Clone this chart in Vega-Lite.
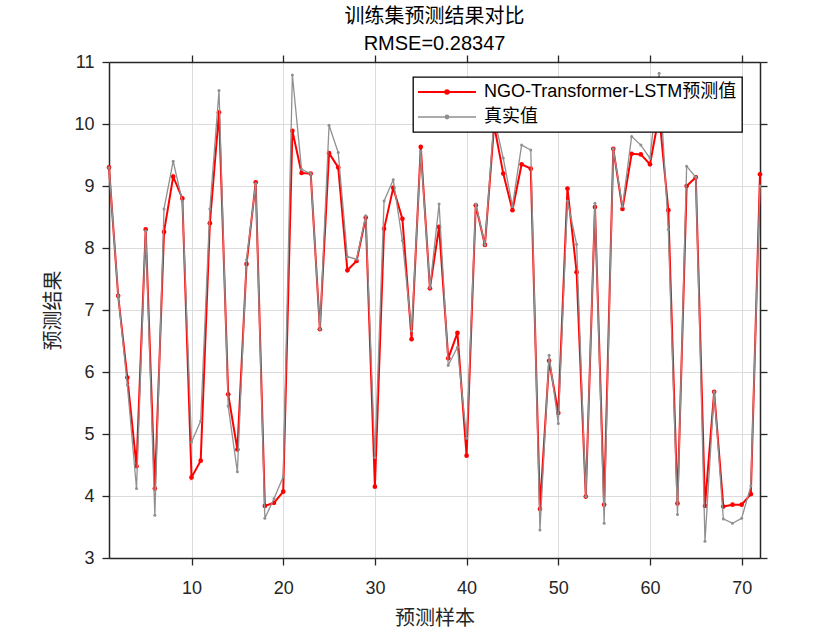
{
  "$schema": "https://vega.github.io/schema/vega-lite/v6.json",
  "autosize": {"type": "none"},
  "width": 651,
  "height": 496,
  "padding": {"left": 109, "top": 62, "right": 80, "bottom": 72},
  "background": "white",
  "title": {
    "text": ["训练集预测结果对比", "RMSE=0.28347"],
    "font": "Liberation Sans, Noto Sans CJK SC",
    "fontSize": 20,
    "fontWeight": "normal",
    "color": "#000000",
    "lineHeight": 27,
    "anchor": "middle",
    "offset": -1
  },
  "config": {
    "view": {"stroke": null},
    "axis": {
      "domainColor": "#262626",
      "domainWidth": 1.5,
      "tickColor": "#262626",
      "tickWidth": 1.3,
      "tickSize": 7,
      "gridColor": "#dcdcdc",
      "gridWidth": 1,
      "labelFont": "Liberation Sans",
      "labelFontSize": 18,
      "labelColor": "#262626",
      "titleFont": "Noto Sans CJK SC",
      "titleFontSize": 20,
      "titleFontWeight": "normal",
      "titleColor": "#262626"
    }
  },
  "data": {
    "values": [
      {"i": 1, "s": "NGO-Transformer-LSTM预测值", "v": 9.30}, {"i": 1, "s": "真实值", "v": 9.30},
      {"i": 2, "s": "NGO-Transformer-LSTM预测值", "v": 7.23}, {"i": 2, "s": "真实值", "v": 7.23},
      {"i": 3, "s": "NGO-Transformer-LSTM预测值", "v": 5.91}, {"i": 3, "s": "真实值", "v": 5.79},
      {"i": 4, "s": "NGO-Transformer-LSTM预测值", "v": 4.48}, {"i": 4, "s": "真实值", "v": 4.12},
      {"i": 5, "s": "NGO-Transformer-LSTM预测值", "v": 8.30}, {"i": 5, "s": "真实值", "v": 8.28},
      {"i": 6, "s": "NGO-Transformer-LSTM预测值", "v": 4.12}, {"i": 6, "s": "真实值", "v": 3.69},
      {"i": 7, "s": "NGO-Transformer-LSTM预测值", "v": 8.26}, {"i": 7, "s": "真实值", "v": 8.63},
      {"i": 8, "s": "NGO-Transformer-LSTM预测值", "v": 9.15}, {"i": 8, "s": "真实值", "v": 9.40},
      {"i": 9, "s": "NGO-Transformer-LSTM预测值", "v": 8.80}, {"i": 9, "s": "真实值", "v": 8.75},
      {"i": 10, "s": "NGO-Transformer-LSTM预测值", "v": 4.30}, {"i": 10, "s": "真实值", "v": 4.87},
      {"i": 11, "s": "NGO-Transformer-LSTM预测值", "v": 4.57}, {"i": 11, "s": "真实值", "v": 5.21},
      {"i": 12, "s": "NGO-Transformer-LSTM预测值", "v": 8.40}, {"i": 12, "s": "真实值", "v": 8.63},
      {"i": 13, "s": "NGO-Transformer-LSTM预测值", "v": 10.19}, {"i": 13, "s": "真实值", "v": 10.54},
      {"i": 14, "s": "NGO-Transformer-LSTM预测值", "v": 5.64}, {"i": 14, "s": "真实值", "v": 5.45},
      {"i": 15, "s": "NGO-Transformer-LSTM预测值", "v": 4.75}, {"i": 15, "s": "真实值", "v": 4.39},
      {"i": 16, "s": "NGO-Transformer-LSTM预测值", "v": 7.74}, {"i": 16, "s": "真实值", "v": 7.81},
      {"i": 17, "s": "NGO-Transformer-LSTM预测值", "v": 9.06}, {"i": 17, "s": "真实值", "v": 9.04},
      {"i": 18, "s": "NGO-Transformer-LSTM预测值", "v": 3.84}, {"i": 18, "s": "真实值", "v": 3.64},
      {"i": 19, "s": "NGO-Transformer-LSTM预测值", "v": 3.89}, {"i": 19, "s": "真实值", "v": 3.96},
      {"i": 20, "s": "NGO-Transformer-LSTM预测值", "v": 4.07}, {"i": 20, "s": "真实值", "v": 4.31},
      {"i": 21, "s": "NGO-Transformer-LSTM预测值", "v": 9.89}, {"i": 21, "s": "真实值", "v": 10.79},
      {"i": 22, "s": "NGO-Transformer-LSTM预测值", "v": 9.21}, {"i": 22, "s": "真实值", "v": 9.27},
      {"i": 23, "s": "NGO-Transformer-LSTM预测值", "v": 9.20}, {"i": 23, "s": "真实值", "v": 9.20},
      {"i": 24, "s": "NGO-Transformer-LSTM预测值", "v": 6.69}, {"i": 24, "s": "真实值", "v": 6.69},
      {"i": 25, "s": "NGO-Transformer-LSTM预测值", "v": 9.53}, {"i": 25, "s": "真实值", "v": 9.98},
      {"i": 26, "s": "NGO-Transformer-LSTM预测值", "v": 9.30}, {"i": 26, "s": "真实值", "v": 9.54},
      {"i": 27, "s": "NGO-Transformer-LSTM预测值", "v": 7.64}, {"i": 27, "s": "真实值", "v": 7.86},
      {"i": 28, "s": "NGO-Transformer-LSTM预测值", "v": 7.79}, {"i": 28, "s": "真实值", "v": 7.82},
      {"i": 29, "s": "NGO-Transformer-LSTM预测值", "v": 8.49}, {"i": 29, "s": "真实值", "v": 8.52},
      {"i": 30, "s": "NGO-Transformer-LSTM预测值", "v": 4.15}, {"i": 30, "s": "真实值", "v": 4.62},
      {"i": 31, "s": "NGO-Transformer-LSTM预测值", "v": 8.31}, {"i": 31, "s": "真实值", "v": 8.76},
      {"i": 32, "s": "NGO-Transformer-LSTM预测值", "v": 8.97}, {"i": 32, "s": "真实值", "v": 9.10},
      {"i": 33, "s": "NGO-Transformer-LSTM预测值", "v": 8.47}, {"i": 33, "s": "真实值", "v": 8.12},
      {"i": 34, "s": "NGO-Transformer-LSTM预测值", "v": 6.53}, {"i": 34, "s": "真实值", "v": 6.66},
      {"i": 35, "s": "NGO-Transformer-LSTM预测值", "v": 9.63}, {"i": 35, "s": "真实值", "v": 9.56},
      {"i": 36, "s": "NGO-Transformer-LSTM预测值", "v": 7.35}, {"i": 36, "s": "真实值", "v": 7.36},
      {"i": 37, "s": "NGO-Transformer-LSTM预测值", "v": 8.34}, {"i": 37, "s": "真实值", "v": 8.71},
      {"i": 38, "s": "NGO-Transformer-LSTM预测值", "v": 6.22}, {"i": 38, "s": "真实值", "v": 6.11},
      {"i": 39, "s": "NGO-Transformer-LSTM预测值", "v": 6.63}, {"i": 39, "s": "真实值", "v": 6.40},
      {"i": 40, "s": "NGO-Transformer-LSTM预测值", "v": 4.65}, {"i": 40, "s": "真实值", "v": 4.93},
      {"i": 41, "s": "NGO-Transformer-LSTM预测值", "v": 8.69}, {"i": 41, "s": "真实值", "v": 8.71},
      {"i": 42, "s": "NGO-Transformer-LSTM预测值", "v": 8.05}, {"i": 42, "s": "真实值", "v": 8.05},
      {"i": 43, "s": "NGO-Transformer-LSTM预测值", "v": 9.98}, {"i": 43, "s": "真实值", "v": 10.10},
      {"i": 44, "s": "NGO-Transformer-LSTM预测值", "v": 9.20}, {"i": 44, "s": "真实值", "v": 9.45},
      {"i": 45, "s": "NGO-Transformer-LSTM预测值", "v": 8.61}, {"i": 45, "s": "真实值", "v": 8.67},
      {"i": 46, "s": "NGO-Transformer-LSTM预测值", "v": 9.35}, {"i": 46, "s": "真实值", "v": 9.66},
      {"i": 47, "s": "NGO-Transformer-LSTM预测值", "v": 9.28}, {"i": 47, "s": "真实值", "v": 9.58},
      {"i": 48, "s": "NGO-Transformer-LSTM预测值", "v": 3.79}, {"i": 48, "s": "真实值", "v": 3.45},
      {"i": 49, "s": "NGO-Transformer-LSTM预测值", "v": 6.18}, {"i": 49, "s": "真实值", "v": 6.27},
      {"i": 50, "s": "NGO-Transformer-LSTM预测值", "v": 5.34}, {"i": 50, "s": "真实值", "v": 5.17},
      {"i": 51, "s": "NGO-Transformer-LSTM预测值", "v": 8.96}, {"i": 51, "s": "真实值", "v": 8.76},
      {"i": 52, "s": "NGO-Transformer-LSTM预测值", "v": 7.61}, {"i": 52, "s": "真实值", "v": 8.06},
      {"i": 53, "s": "NGO-Transformer-LSTM预测值", "v": 3.99}, {"i": 53, "s": "真实值", "v": 3.99},
      {"i": 54, "s": "NGO-Transformer-LSTM预测值", "v": 8.66}, {"i": 54, "s": "真实值", "v": 8.72},
      {"i": 55, "s": "NGO-Transformer-LSTM预测值", "v": 3.86}, {"i": 55, "s": "真实值", "v": 3.56},
      {"i": 56, "s": "NGO-Transformer-LSTM预测值", "v": 9.60}, {"i": 56, "s": "真实值", "v": 9.60},
      {"i": 57, "s": "NGO-Transformer-LSTM预测值", "v": 8.63}, {"i": 57, "s": "真实值", "v": 8.67},
      {"i": 58, "s": "NGO-Transformer-LSTM预测值", "v": 9.52}, {"i": 58, "s": "真实值", "v": 9.80},
      {"i": 59, "s": "NGO-Transformer-LSTM预测值", "v": 9.51}, {"i": 59, "s": "真实值", "v": 9.66},
      {"i": 60, "s": "NGO-Transformer-LSTM预测值", "v": 9.35}, {"i": 60, "s": "真实值", "v": 9.45},
      {"i": 61, "s": "NGO-Transformer-LSTM预测值", "v": 10.15}, {"i": 61, "s": "真实值", "v": 10.82},
      {"i": 62, "s": "NGO-Transformer-LSTM预测值", "v": 8.61}, {"i": 62, "s": "真实值", "v": 8.30},
      {"i": 63, "s": "NGO-Transformer-LSTM预测值", "v": 3.88}, {"i": 63, "s": "真实值", "v": 3.70},
      {"i": 64, "s": "NGO-Transformer-LSTM预测值", "v": 9.00}, {"i": 64, "s": "真实值", "v": 9.32},
      {"i": 65, "s": "NGO-Transformer-LSTM预测值", "v": 9.14}, {"i": 65, "s": "真实值", "v": 9.14},
      {"i": 66, "s": "NGO-Transformer-LSTM预测值", "v": 3.84}, {"i": 66, "s": "真实值", "v": 3.27},
      {"i": 67, "s": "NGO-Transformer-LSTM预测值", "v": 5.68}, {"i": 67, "s": "真实值", "v": 5.68},
      {"i": 68, "s": "NGO-Transformer-LSTM预测值", "v": 3.83}, {"i": 68, "s": "真实值", "v": 3.63},
      {"i": 69, "s": "NGO-Transformer-LSTM预测值", "v": 3.86}, {"i": 69, "s": "真实值", "v": 3.56},
      {"i": 70, "s": "NGO-Transformer-LSTM预测值", "v": 3.86}, {"i": 70, "s": "真实值", "v": 3.64},
      {"i": 71, "s": "NGO-Transformer-LSTM预测值", "v": 4.03}, {"i": 71, "s": "真实值", "v": 4.16},
      {"i": 72, "s": "NGO-Transformer-LSTM预测值", "v": 9.19}, {"i": 72, "s": "真实值", "v": 9.00}
    ]
  },
  "layer": [
    {
      "transform": [{"filter": "datum.s === 'NGO-Transformer-LSTM预测值'"}],
      "mark": {"type": "line", "strokeWidth": 2, "point": {"filled": true, "size": 22, "opacity": 1}},
      "encoding": {
        "x": {
          "field": "i", "type": "quantitative",
          "scale": {"domain": [1, 72], "nice": false, "zero": false},
          "axis": {"orient": "bottom", "values": [10, 20, 30, 40, 50, 60, 70], "grid": true, "labelPadding": 14, "title": "预测样本", "titleY": 60, "titleBaseline": "middle"}
        },
        "y": {
          "field": "v", "type": "quantitative",
          "scale": {"domain": [3, 11], "nice": false, "zero": false},
          "axis": {"orient": "left", "values": [3, 4, 5, 6, 7, 8, 9, 10, 11], "grid": true, "labelPadding": 8, "title": "预测结果", "titleX": -56, "titleY": 248, "titleAngle": -90, "titleAlign": "center", "titleBaseline": "middle"}
        },
        "color": {
          "field": "s", "type": "nominal",
          "scale": {"domain": ["NGO-Transformer-LSTM预测值", "真实值"], "range": ["#ff0000", "#909090"]},
          "legend": {
            "title": null,
            "orient": "none",
            "legendX": 304,
            "legendY": 15,
            "direction": "vertical",
            "symbolType": "M-1,0L1,0M0.06,0A0.06,0.06,0,1,1,-0.06,0A0.06,0.06,0,1,1,0.06,0Z",
            "symbolSize": 3364,
            "symbolOffset": 20,
            "clipHeight": 20,
            "rowPadding": 5,
            "labelOffset": 28,
            "labelFont": "Liberation Sans, Noto Sans CJK SC",
            "labelFontSize": 18,
            "labelColor": "#000000",
            "labelLimit": 400,
            "padding": 5,
            "fillColor": "#ffffff",
            "strokeColor": "#000000",
            "cornerRadius": 0,
            "encode": {
              "legend": {"update": {"strokeWidth": {"value": 1.3}}},
              "symbols": {"update": {
                "fill": {"scale": "color", "field": "value"},
                "stroke": {"scale": "color", "field": "value"},
                "strokeWidth": {"signal": "datum.value === '真实值' ? 1.3 : 2"},
                "opacity": {"value": 1}
              }}
            }
          }
        }
      }
    },
    {
      "transform": [{"filter": "datum.s === '真实值'"}],
      "mark": {"type": "line", "strokeWidth": 1.3, "point": {"filled": true, "size": 9, "opacity": 1}},
      "encoding": {
        "x": {
          "field": "i", "type": "quantitative",
          "axis": {"orient": "top", "values": [10, 20, 30, 40, 50, 60, 70], "grid": false, "labels": false, "title": null}
        },
        "y": {
          "field": "v", "type": "quantitative",
          "axis": {"orient": "right", "values": [3, 4, 5, 6, 7, 8, 9, 10, 11], "grid": false, "labels": false, "title": null}
        },
        "color": {"field": "s", "type": "nominal"}
      }
    }
  ],
  "resolve": {"axis": {"x": "independent", "y": "independent"}}
}
